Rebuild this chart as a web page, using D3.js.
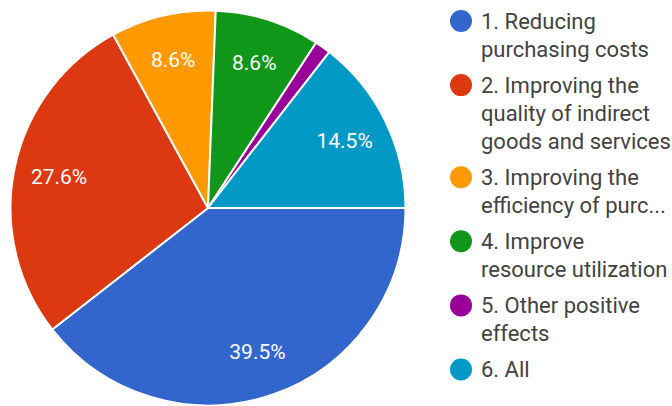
<!DOCTYPE html>
<html>
<head>
<meta charset="utf-8">
<script src="https://cdn.jsdelivr.net/npm/d3@7"></script>
<style>
  html, body { margin: 0; padding: 0; background: #fff; }
  svg { display: block; }
</style>
</head>
<body>
<svg id="chart" width="672" height="406"></svg>
<script>
// Survey answers: share of respondents per effect (percent)
const categories = [
  "1. Reducing purchasing costs",
  "2. Improving the quality of indirect goods and services",
  "3. Improving the efficiency of purc...",
  "4. Improve resource utilization",
  "5. Other positive effects",
  "6. All"
];
const legendLines = [
  ["1. Reducing", "purchasing costs"],
  ["2. Improving the", "quality of indirect", "goods and services"],
  ["3. Improving the", "efficiency of purc..."],
  ["4. Improve", "resource utilization"],
  ["5. Other positive", "effects"],
  ["6. All"]
];
const values = [39.5, 27.6, 8.6, 8.6, 1.3, 14.5];
const colors = ["#3366cc", "#dc3912", "#ff9900", "#109618", "#990099", "#0099c6"];

const svg = d3.select("#chart");
const cx = 208, cy = 208, radius = 197.5;
const font = "Roboto, 'Noto Sans', sans-serif";

const color = d3.scaleOrdinal().domain(categories).range(colors);

// Slices run clockwise starting at 3 o'clock
const pie = d3.pie()
  .sort(null)
  .value(d => d.value)
  .startAngle(Math.PI / 2)
  .endAngle(Math.PI / 2 + 2 * Math.PI);

const data = categories.map((c, i) => ({ name: c, value: values[i] }));
const arcs = pie(data);
const arc = d3.arc().innerRadius(0).outerRadius(radius);
const labelArc = d3.arc().innerRadius(radius * 0.77).outerRadius(radius * 0.77);

const g = svg.append("g").attr("transform", `translate(${cx},${cy})`);

g.selectAll("path.slice")
  .data(arcs)
  .join("path")
  .attr("class", "slice")
  .attr("d", arc)
  .attr("fill", d => color(d.data.name))
  .attr("stroke", "#ffffff")
  .attr("stroke-width", 2)
  .attr("stroke-linejoin", "round");

const total = d3.sum(values);
g.selectAll("text.pct")
  .data(arcs.filter(d => d.data.value / total >= 0.05))
  .join("text")
  .attr("class", "pct")
  .attr("transform", d => `translate(${labelArc.centroid(d)})`)
  .attr("text-anchor", "middle")
  .attr("dominant-baseline", "central")
  .attr("font-family", font)
  .attr("font-size", 21)
  .attr("fill", "#ffffff")
  .text(d => d.data.value.toFixed(1) + "%");

// Legend
const legend = svg.append("g").attr("transform", "translate(461,0)");
const lineH = 28, itemGap = 8.1, firstBase = 28.5;
let y = firstBase;
legendLines.forEach((lines, i) => {
  const item = legend.append("g");
  item.append("circle")
    .attr("cx", 0)
    .attr("cy", y - 7.5)
    .attr("r", 11)
    .attr("fill", color(categories[i]));
  const t = item.append("text")
    .attr("font-family", font)
    .attr("font-size", 22)
    .attr("fill", "#424242");
  lines.forEach((ln, j) => {
    t.append("tspan").attr("x", 20).attr("y", y + j * lineH).text(ln);
  });
  y += lines.length * lineH + itemGap;
});
</script>
</body>
</html>
